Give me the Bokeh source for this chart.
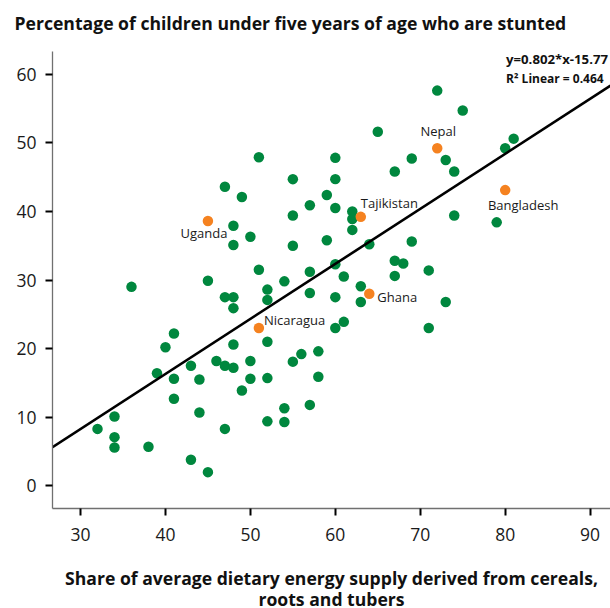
from bokeh.plotting import figure
from bokeh.models import Range1d, Label, FixedTicker
from bokeh.layouts import column
from bokeh.core.properties import value
from bokeh.embed import file_html
from bokeh.resources import INLINE

# ---- data ----
x_green = [51, 55, 47, 49, 57, 59, 55, 48, 50, 48, 55, 59, 51, 57, 45, 54,
           72, 75, 65, 81, 80, 60, 69, 73, 67, 74, 60, 60, 62, 62, 62, 74,
           79, 64, 69, 60, 67, 68, 71, 61, 67, 63, 60, 63, 73, 61, 60, 71,
           36, 47, 48, 52, 52, 57, 48, 41, 40, 48, 52, 58, 56, 50, 55, 46,
           47, 48, 43, 39, 41, 44, 50, 52, 58, 49, 41, 44, 54, 57, 34, 32,
           47, 52, 54, 34, 34, 38, 43, 45]
y_green = [47.9, 44.7, 43.6, 42.1, 40.9, 42.4, 39.4, 37.9, 36.3, 35.1, 35.0, 35.8, 31.5, 31.2, 29.9, 29.8,
           57.6, 54.7, 51.6, 50.6, 49.2, 47.8, 47.7, 47.5, 45.8, 45.8, 44.7, 40.5, 40.0, 38.9, 37.3, 39.4,
           38.4, 35.2, 35.6, 32.3, 32.8, 32.4, 31.4, 30.5, 30.6, 29.1, 27.5, 26.8, 26.8, 23.9, 23.0, 23.0,
           29.0, 27.5, 27.5, 28.6, 27.1, 28.1, 25.9, 22.2, 20.2, 20.6, 21.0, 19.6, 19.2, 18.2, 18.1, 18.2,
           17.5, 17.2, 17.5, 16.4, 15.6, 15.5, 15.6, 15.7, 15.9, 13.9, 12.7, 10.7, 11.3, 11.8, 10.1, 8.3,
           8.3, 9.4, 9.3, 7.1, 5.6, 5.7, 3.8, 2.0]

countries = ["Uganda", "Nepal", "Tajikistan", "Bangladesh", "Ghana", "Nicaragua"]
x_orange = [45, 72, 63, 80, 64, 51]
y_orange = [38.6, 49.2, 39.2, 43.1, 28.0, 23.0]

slope = 0.802
intercept = -15.77
r_squared = 0.464

x_ticks = [30, 40, 50, 60, 70, 80, 90]
y_ticks = [0, 10, 20, 30, 40, 50, 60]

title_text = "Percentage of children under five years of age who are stunted"
x_title_lines = ["Share of average dietary energy supply derived from cereals,", "roots and tubers"]

# ---- styles / layout ----
GREEN = "#00873E"
ORANGE = "#F58220"
FONT = "Open Sans"
W = 610
LEFT = 52
HEAD_H, MAIN_H, FOOT_H = 51, 504, 53

x0, x1 = 26.7, 92.4
y0, y1 = -3.3, 63.3


def strip(height, top_border=0):
    f = figure(width=W, height=height, x_range=Range1d(LEFT, W), y_range=Range1d(0, height - top_border),
               output_backend="svg", toolbar_location=None,
               min_border_left=LEFT, min_border_right=0, min_border_top=top_border, min_border_bottom=0,
               x_axis_location=None, y_axis_location=None)
    f.outline_line_color = None
    f.grid.visible = False
    return f


# title strip (title drawn in its panel above a thin empty frame)
head = strip(HEAD_H, top_border=39)
head.title.text = title_text
head.title.align = "left"
head.title.offset = -38
head.title.standoff = 10
head.title.text_font = FONT
head.title.text_font_size = "17.6px"
head.title.text_font_style = "bold"
head.title.text_color = "#111111"

# main scatter
p = figure(width=W, height=MAIN_H, x_range=Range1d(x0, x1), y_range=Range1d(y0, y1),
           output_backend="svg", toolbar_location=None,
           min_border_left=LEFT, min_border_right=0, min_border_top=0, min_border_bottom=47)
p.outline_line_color = None
p.grid.visible = False

for ax in (p.xaxis[0], p.yaxis[0]):
    ax.axis_line_color = "#707070"
    ax.axis_line_width = 1.3
    ax.major_tick_line_color = "black"
    ax.major_tick_line_width = 2
    ax.major_tick_out = 7
    ax.major_tick_in = 0
    ax.minor_tick_line_color = None
    ax.major_label_text_font = FONT
    ax.major_label_text_font_size = "17.5px"
    ax.major_label_text_color = "#1a1a1a"

p.xaxis[0].ticker = FixedTicker(ticks=x_ticks)
p.yaxis[0].ticker = FixedTicker(ticks=y_ticks)
p.yaxis[0].major_label_standoff = 9
p.xaxis[0].major_label_standoff = 12

p.scatter(x_green, y_green, size=10.5, fill_color=GREEN, line_color=None)
p.scatter(x_orange, y_orange, size=10.5, fill_color=ORANGE, line_color=None)

p.line([x0, x1], [slope * x0 + intercept, slope * x1 + intercept], line_color="black", line_width=2.6)

# country labels: (x_offset, y_offset, align)
label_pos = {
    "Uganda": (-4, -12, "center"),
    "Nepal": (1, 17, "center"),
    "Tajikistan": (0, 14, "left"),
    "Bangladesh": (18, -15, "center"),
    "Ghana": (8, -3, "left"),
    "Nicaragua": (5, 8, "left"),
}
for name, cx, cy in zip(countries, x_orange, y_orange):
    dx, dy, al = label_pos[name]
    p.add_layout(Label(x=cx, y=cy, x_offset=dx, y_offset=dy, text=name, text_align=al,
                       text_baseline="middle", text_font=FONT, text_font_size="13px",
                       text_color="#1a1a1a"))

p.add_layout(Label(x=80.1, y=62.2, text=f"y={slope}*x{intercept}", text_align="left",
                   text_baseline="middle", text_font=FONT, text_font_size="13.2px",
                   text_font_style="bold", text_color="#111111"))
p.add_layout(Label(x=80.1, y=59.4, text=f"R\u00b2 Linear = {r_squared}", text_align="left",
                   text_baseline="middle", text_font=FONT, text_font_size="12px",
                   text_font_style="bold", text_color="#111111"))

# x-axis title strip (two centred lines), x in page pixels
foot = strip(FOOT_H)
frame_mid = LEFT + (W - LEFT) / 2
foot.text(x=[frame_mid, frame_mid], y=[FOOT_H - 22, FOOT_H - 43], text=x_title_lines,
          text_align="center", text_baseline="middle",
          text_font=value(FONT), text_font_size="17.6px", text_font_style="bold", text_color="#111111")

layout = column(head, p, foot, spacing=0)
open("out.html", "w").write(file_html(layout, INLINE))
